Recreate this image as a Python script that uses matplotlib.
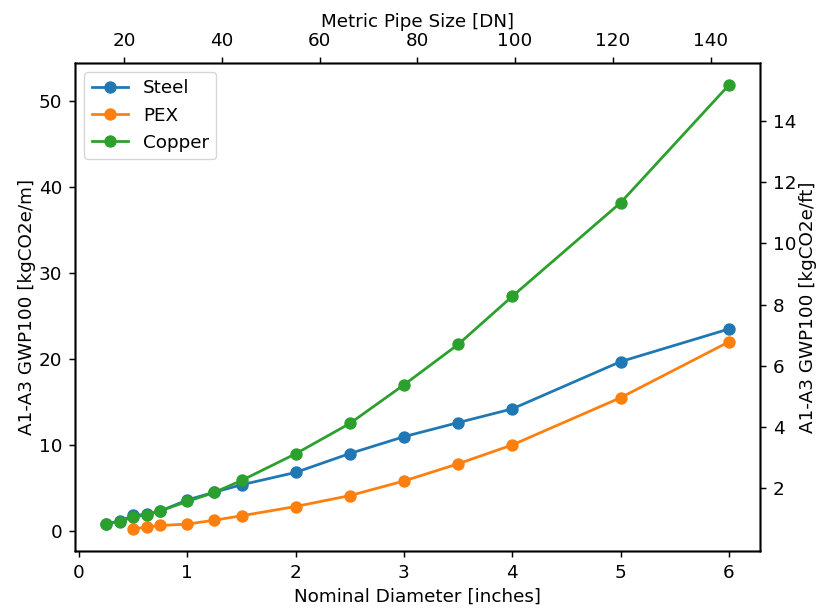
#!/usr/bin/env python3

# embodied carbon (A1-A3 GWP100) of pipe materials by nominal diameter

import matplotlib as mpl
import matplotlib.pyplot as plt

# nominal pipe diameters in inches
diameter_in = [0.25, 0.375, 0.5, 0.625, 0.75, 1.0, 1.25, 1.5, 2.0, 2.5, 3.0, 3.5, 4.0, 5.0, 6.0]

# kgCO2e per metre
steel = [0.85, 1.1, 1.8, 1.9, 2.3, 3.6, 4.5, 5.36, 6.8, 9.0, 10.96, 12.6, 14.2, 19.7, 23.5]
pex_diameter_in = [0.5, 0.625, 0.75, 1.0, 1.25, 1.5, 2.0, 2.5, 3.0, 3.5, 4.0, 5.0, 6.0]
pex = [0.23, 0.43, 0.62, 0.78, 1.24, 1.75, 2.83, 4.1, 5.8, 7.8, 10.0, 15.5, 22.0]
copper = [0.82, 1.08, 1.6, 1.86, 2.33, 3.42, 4.47, 5.86, 8.97, 12.5, 17.0, 21.7, 27.3, 38.2, 51.9]

# axis ranges of the secondary scales
dn_range = (9.93, 150.1)
per_ft_range = (-0.06, 15.9)

# reference looks like a default figure rendered ~1.32x larger
scale = 1.32
mpl.rcParams.update({
    "font.size": 10 * scale,
    "axes.linewidth": 0.8 * scale,
    "xtick.major.size": 3.5 * scale,
    "ytick.major.size": 3.5 * scale,
    "xtick.major.width": 0.8 * scale,
    "ytick.major.width": 0.8 * scale,
    "xtick.major.pad": 3.5 * scale,
    "ytick.major.pad": 3.5 * scale,
})


def main():
    fig, ax = plt.subplots(figsize=(8.18, 6.09), dpi=100)
    fig.subplots_adjust(left=0.0917, right=0.929, bottom=0.0952, top=0.8966)

    style = dict(marker="o", markersize=6 * scale, linewidth=1.5 * scale)
    ax.plot(diameter_in, steel, label="Steel", color="#1f77b4", **style)
    ax.plot(pex_diameter_in, pex, label="PEX", color="#ff7f0e", **style)
    ax.plot(diameter_in, copper, label="Copper", color="#2ca02c", **style)

    ax.set_xlabel("Nominal Diameter [inches]")
    ax.set_ylabel("A1-A3 GWP100 [kgCO2e/m]", labelpad=2)
    ax.legend(loc="upper left")

    # metric pipe size on top
    ax_top = ax.twiny()
    ax_top.set_xlim(*dn_range)
    ax_top.set_xlabel("Metric Pipe Size [DN]")

    # per foot values on the right
    ax_right = ax.twinx()
    ax_right.set_ylim(*per_ft_range)
    ax_right.set_yticks([2, 4, 6, 8, 10, 12, 14])
    ax_right.set_ylabel("A1-A3 GWP100 [kgCO2e/ft]", labelpad=2)

    fig.savefig("out.png")


if __name__ == "__main__":
    main()
